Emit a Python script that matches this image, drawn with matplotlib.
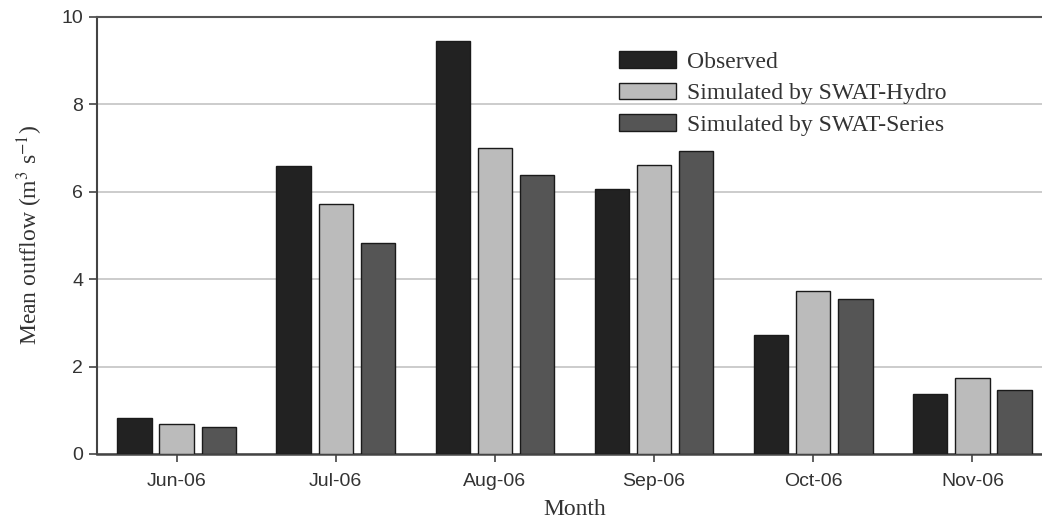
import numpy as np
import matplotlib
matplotlib.use("Agg")
import matplotlib.pyplot as plt

months = ["Jun-06", "Jul-06", "Aug-06", "Sep-06", "Oct-06", "Nov-06"]
observed = [0.83, 6.59, 9.44, 6.06, 2.72, 1.38]
swat_hydro = [0.69, 5.71, 6.99, 6.62, 3.73, 1.73]
swat_series = [0.62, 4.82, 6.38, 6.93, 3.54, 1.47]

series_labels = ["Observed", "Simulated by SWAT-Hydro", "Simulated by SWAT-Series"]
series_colors = ["#222222", "#bbbbbb", "#555555"]

plt.rcParams["mathtext.fontset"] = "stix"
serif = "Liberation Serif"
sans = "Liberation Sans"

W, H = 1042, 526
fig = plt.figure(figsize=(W / 100, H / 100), dpi=100)
# axes runs a little past the right edge of the picture, as in the original
left, right, top, bottom = 97, 1052, 16.7, 454
ax = fig.add_axes([left / W, 1 - bottom / H, (right - left) / W, (bottom - top) / H])

x = np.arange(len(months))
step = 0.265
width = 0.215
for i, (vals, lab, col) in enumerate(zip([observed, swat_hydro, swat_series], series_labels, series_colors)):
    ax.bar(x + (i - 1) * step, vals, width, color=col, edgecolor="#1a1a1a",
           linewidth=1.0, label=lab, zorder=3)

ax.set_xlim(-0.5, 5.5)
ax.set_ylim(0, 10)
ax.set_yticks([0, 2, 4, 6, 8, 10])
ax.set_xticks(x)
ax.set_xticklabels(months)
ax.grid(axis="y", color="#cccccc", linewidth=1.4, zorder=0)
ax.set_axisbelow(True)

for lbl in ax.get_xticklabels() + ax.get_yticklabels():
    lbl.set_fontfamily(sans)
    lbl.set_fontsize(14)
    lbl.set_color("#333333")

ax.tick_params(axis="x", direction="out", length=6, width=1.2, color="#444444", pad=8)
ax.tick_params(axis="y", direction="out", length=6, width=1.2, color="#444444", pad=4)

ax.spines["right"].set_visible(False)
ax.spines["top"].set_color("#555555")
ax.spines["top"].set_linewidth(1.5)
ax.spines["left"].set_color("#444444")
ax.spines["left"].set_linewidth(1.5)
ax.spines["bottom"].set_color("#444444")
ax.spines["bottom"].set_linewidth(1.8)

ax.set_ylabel(r"Mean outflow (m$^{3}$ s$^{-1}$)", fontfamily=serif, fontsize=17,
              color="#333333", labelpad=12)
ax.set_xlabel("Month", fontfamily=serif, fontsize=17, color="#333333", labelpad=6)

leg = ax.legend(loc="upper left", bbox_to_anchor=(619 / W, 1 - 51 / H),
                bbox_transform=fig.transFigure, frameon=False,
                prop={"family": serif, "size": 17}, handlelength=2.4,
                handleheight=0.72, labelspacing=0.42, borderpad=0,
                borderaxespad=0, handletextpad=0.5)
for t in leg.get_texts():
    t.set_color("#333333")

fig.savefig("out.png", dpi=100)
